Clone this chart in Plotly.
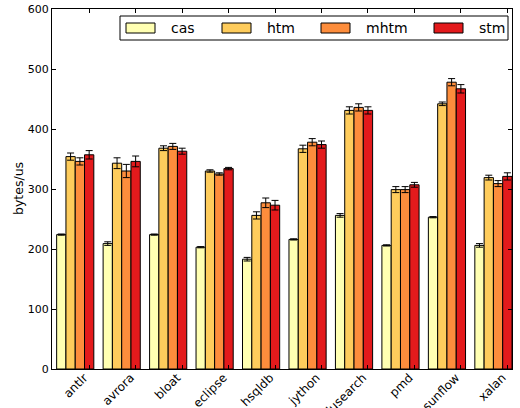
import plotly.graph_objects as go

benchmarks = ["antlr", "avrora", "bloat", "eclipse", "hsqldb",
              "jython", "lusearch", "pmd", "sunflow", "xalan"]

cas = [224, 209, 224, 203, 183, 216, 256, 206, 253, 206]
htm = [354, 343, 368, 330, 256, 367, 431, 299, 442, 319]
mhtm = [346, 330, 371, 325, 277, 378, 436, 299, 478, 309]
stm = [357, 346, 363, 334, 273, 374, 431, 307, 467, 321]

cas_err = [1, 3, 1, 1, 3, 1, 3, 1, 1, 3]
htm_err = [6, 9, 4, 2, 6, 6, 6, 5, 3, 4]
mhtm_err = [6, 11, 5, 2, 8, 6, 6, 5, 6, 5]
stm_err = [7, 9, 5, 2, 8, 6, 6, 4, 7, 6]

series = [
    ("cas", cas, cas_err, "#ffffb2"),
    ("htm", htm, htm_err, "#fecc5c"),
    ("mhtm", mhtm, mhtm_err, "#fd8d3c"),
    ("stm", stm, stm_err, "#e31a1c"),
]

BAR_W = 0.2
FONT = "DejaVu Sans"

# figure geometry (pixels)
W, H = 520, 408
ML, MR, MT, MB = 52, 8, 9, 39
PW, PH = W - ML - MR, H - MT - MB


def px(x):
    return (x - ML) / PW


def py(y):
    return (H - MB - y) / PH


fig = go.Figure()
for k, (name, vals, errs, color) in enumerate(series):
    xs = [i + BAR_W / 2 + k * BAR_W for i in range(len(benchmarks))]
    fig.add_trace(go.Bar(
        x=xs, y=vals, width=BAR_W, name=name,
        marker=dict(color=color, line=dict(color="black", width=1)),
        error_y=dict(type="data", array=errs, color="black",
                     thickness=1, width=3.5),
        showlegend=False,
    ))

# legend box drawn in pixel layout
shapes = [dict(type="rect", xref="paper", yref="paper",
               x0=px(120), x1=px(508), y0=py(40), y1=py(16),
               line=dict(color="black", width=1), fillcolor="white")]
annotations = []
legend_x = [126, 222, 321, 434]
for (name, _, _, color), lx in zip(series, legend_x):
    shapes.append(dict(type="rect", xref="paper", yref="paper",
                       x0=px(lx), x1=px(lx + 29), y0=py(33), y1=py(23),
                       line=dict(color="black", width=1), fillcolor=color))
    annotations.append(dict(text=name, xref="paper", yref="paper",
                            x=px(lx + 43), y=py(28), xanchor="left",
                            yanchor="middle", showarrow=False,
                            font=dict(family=FONT, size=14, color="black")))

# y-axis title
annotations.append(dict(text="bytes/us", xref="paper", yref="paper",
                        x=px(18), y=0.5, xanchor="center", yanchor="middle",
                        textangle=-90, showarrow=False,
                        font=dict(family=FONT, size=12.5, color="black")))

fig.update_layout(
    width=W, height=H,
    margin=dict(l=ML, r=MR, t=MT, b=MB, autoexpand=False),
    paper_bgcolor="white", plot_bgcolor="white",
    barmode="overlay",
    font=dict(family=FONT, size=11, color="black"),
    shapes=shapes, annotations=annotations,
)
fig.update_xaxes(
    range=[-0.1, len(benchmarks) - 0.2],
    tickvals=[i + 0.7 for i in range(len(benchmarks))],
    ticktext=benchmarks, tickangle=-45, automargin=False,
    tickfont=dict(size=12),
    ticklabelshift=-5, ticklabelstandoff=-4,
    ticks="inside", ticklen=4, tickcolor="black",
    showline=True, linecolor="black", linewidth=1, mirror="allticks",
    showgrid=False, zeroline=False,
)
fig.update_yaxes(
    range=[0, 600], dtick=100, automargin=False,
    ticks="inside", ticklen=4, tickcolor="black",
    showline=True, linecolor="black", linewidth=1, mirror="allticks",
    showgrid=False, zeroline=False,
)

fig.write_html("out.html")
